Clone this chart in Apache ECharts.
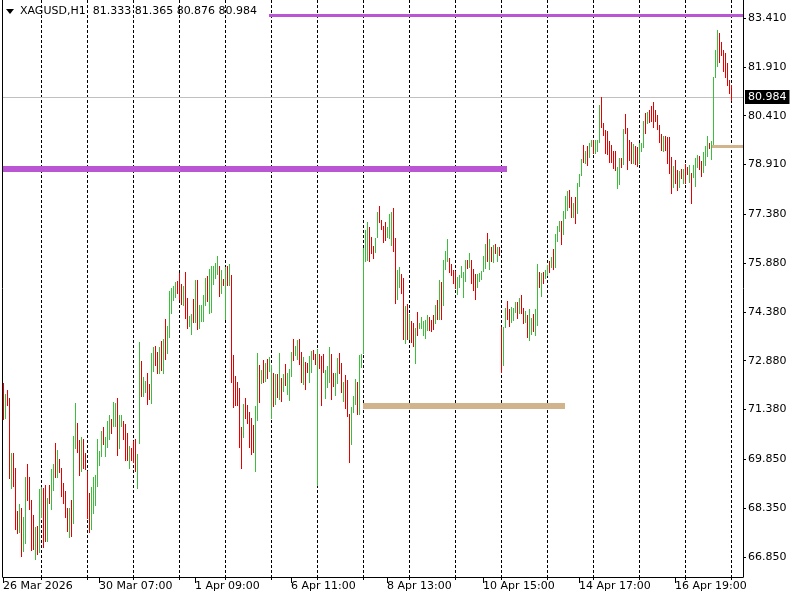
<!DOCTYPE html>
<html><head><meta charset="utf-8">
<script src="https://cdn.jsdelivr.net/npm/echarts@6/dist/echarts.min.js"></script>
<style>html,body{margin:0;padding:0;background:#fff}#c{width:800px;height:600px}</style>
</head><body><div id="c"></div>
<script>
// ---- data ----
const symbolTitle = 'XAGUSD,H1';
const headerValues = ['81.333', '81.365', '80.876', '80.984'];
const days = ['26 Mar','27 Mar','30 Mar','31 Mar','1 Apr','2 Apr','6 Apr','7 Apr','8 Apr','9 Apr','10 Apr','13 Apr','14 Apr','15 Apr','16 Apr','17 Apr','20 Apr'];
const hours = ['01:00','02:00','03:00','04:00','05:00','06:00','07:00','08:00','09:00','10:00','11:00','12:00','13:00','14:00','15:00','16:00','17:00','18:00','19:00','20:00','21:00','22:00','23:00'];
const firstBarOffset = 4;          // first bar is 26 Mar 05:00
const emptyBarsRight = 6;          // chart shift: empty hours right of the last bar
const firstLabel = '26 Mar 2026';
const labelEvery = 48;
const priceTicks = [83.41, 81.91, 80.41, 78.91, 77.38, 75.88, 74.38, 72.88, 71.38, 69.85, 68.35, 66.85];
const lastPrice = 80.984;
const levelPrices = [83.50, 78.77, 71.49, 79.47];
const levelFrom = [133, 0, 180, 354];
const levelTo = [370, 252, 281, 370];

const opens = [
72.21,71.13,71.98,71.74,68.98,70.05,69.59,68.27,67.62,68.37,
67.04,67.29,69.72,69.31,68.61,68.15,66.78,67.79,67.00,68.07,
68.97,69.06,67.34,69.06,68.33,68.91,70.35,69.32,69.87,69.59,
69.13,68.89,68.37,67.47,68.59,67.90,70.19,70.98,70.46,69.50,
70.47,70.06,69.49,68.83,67.72,68.20,68.45,69.04,69.67,69.95,
70.85,69.95,70.22,70.47,71.09,70.88,70.87,71.74,70.21,70.88,
71.03,70.94,70.66,69.59,70.20,70.41,70.47,68.98,70.36,72.87,
71.81,71.93,72.50,72.17,71.59,72.57,73.33,73.15,72.49,73.49,
72.49,74.16,73.12,73.61,74.36,74.74,74.85,75.33,75.57,75.25,
74.59,75.61,74.81,73.96,73.71,74.77,74.06,75.36,73.90,74.11,
74.09,74.58,75.48,74.36,74.38,75.25,75.42,75.55,75.79,74.95,
75.39,74.17,75.79,75.22,75.51,73.06,72.41,72.24,72.05,70.85,
70.55,71.73,71.52,71.31,71.13,70.91,69.50,71.06,72.75,72.21,
72.90,72.27,72.93,72.58,71.11,72.51,71.56,72.47,71.71,72.34,
71.96,72.78,71.86,71.67,72.41,73.55,73.06,72.92,73.54,73.16,
72.17,72.84,72.80,72.23,72.54,73.21,73.08,69.06,73.08,73.03,
73.09,71.75,72.07,72.22,73.09,72.51,71.83,72.19,73.13,72.80,
71.65,72.44,72.29,71.25,70.33,71.31,71.54,72.23,71.25,72.70,
73.13,75.95,75.98,77.00,76.68,76.42,76.22,76.69,77.64,77.21,
77.02,77.14,76.67,76.65,76.43,77.57,76.64,74.77,75.14,75.55,
75.41,73.44,74.62,73.55,74.11,74.04,72.81,74.39,73.90,73.90,
73.68,73.59,73.81,74.22,74.12,74.28,74.03,74.76,74.17,75.31,
74.59,75.71,75.94,76.04,75.85,75.66,75.64,74.94,75.16,75.45,
74.85,75.33,75.98,75.76,75.98,75.70,75.55,75.16,75.32,75.40,
75.63,75.73,76.81,75.69,76.38,75.92,76.48,75.95,76.37,73.93,
72.76,73.92,74.72,74.47,74.08,74.12,74.38,74.69,74.36,74.90,
74.51,74.08,74.29,73.53,73.71,74.32,73.68,73.98,75.61,74.87,
75.62,75.42,75.51,75.93,75.75,76.30,75.77,76.57,76.86,77.17,
76.78,77.27,77.51,78.14,77.91,77.29,77.90,77.43,78.25,78.60,
79.51,78.95,79.48,79.15,79.48,79.66,79.25,79.33,79.61,80.99,
80.19,79.97,79.95,79.63,79.51,79.33,79.33,78.19,78.31,79.10,
78.93,80.47,80.02,79.66,79.60,78.96,79.48,79.46,78.96,79.31,
79.44,80.49,80.18,80.59,80.70,80.83,80.59,80.43,80.12,79.85,
79.33,79.78,79.74,79.76,79.15,78.21,79.05,78.74,78.23,78.77,
78.33,78.93,78.84,78.37,78.64,78.53,78.26,78.84,79.16,79.01,
78.68,78.90,79.17,79.58,79.07,79.54,81.60,81.94,82.96,82.67,
82.43,82.33,82.02,81.50,81.333];

const highs = [
72.21,71.87,71.98,71.74,70.05,70.05,69.59,68.27,68.48,68.37,
68.09,69.32,69.72,69.31,68.61,68.15,67.76,67.79,68.95,69.01,
68.97,69.06,68.67,69.06,69.56,69.71,70.35,70.15,69.87,69.59,
69.13,68.89,68.37,68.36,68.59,70.57,71.59,70.98,70.46,70.54,
70.47,70.06,69.49,68.83,69.01,69.32,69.37,70.48,70.12,70.72,
70.85,70.54,71.03,71.21,71.09,71.61,71.58,71.74,71.21,71.22,
71.03,70.94,70.66,70.26,70.20,70.41,70.47,70.02,73.46,72.87,
72.39,72.26,72.50,72.17,73.12,73.30,73.33,73.15,73.30,73.49,
73.55,74.16,73.95,75.02,75.12,75.18,75.30,75.33,75.57,75.25,
75.18,75.61,74.81,74.26,74.33,74.77,75.36,75.36,74.60,74.59,
74.90,75.42,75.48,75.71,75.78,75.80,75.88,76.11,75.79,75.67,
75.39,75.77,75.79,75.85,75.51,73.06,72.41,72.24,72.05,70.85,
71.55,71.73,71.52,71.31,71.13,70.91,71.50,73.12,72.75,72.60,
72.90,72.81,72.93,73.00,72.75,72.51,72.47,72.47,73.12,72.34,
72.46,72.78,72.50,72.63,73.15,73.55,73.32,73.52,73.54,73.16,
72.99,72.84,72.80,73.03,73.18,73.21,73.08,73.24,73.08,73.03,
73.09,72.60,72.72,73.30,73.09,72.51,72.50,72.96,73.13,72.80,
72.24,72.44,72.29,71.25,71.46,71.81,72.32,72.23,73.07,73.09,
76.33,76.90,77.14,77.00,76.68,76.42,76.65,77.45,77.64,77.21,
77.02,77.14,77.00,77.39,77.45,77.57,76.64,75.67,75.76,75.55,
75.41,74.56,74.62,74.31,74.11,74.04,73.90,74.39,74.03,74.22,
74.09,74.14,74.28,74.22,74.12,74.28,74.59,74.76,75.37,75.31,
75.98,76.25,76.62,76.04,75.85,75.66,75.64,75.45,75.50,75.78,
75.61,75.98,75.98,76.20,75.98,75.70,75.55,75.55,75.59,75.65,
76.10,76.47,76.81,76.63,76.38,76.45,76.48,76.37,76.37,73.93,
73.91,74.51,74.72,74.47,74.54,74.50,74.69,74.69,74.82,74.90,
74.51,74.42,74.29,74.48,74.20,74.32,74.48,75.84,75.61,75.59,
75.62,75.67,75.81,75.93,76.06,76.30,76.78,77.01,77.17,77.17,
77.48,77.95,78.10,78.14,77.91,77.72,77.90,78.35,78.62,79.09,
79.51,79.33,79.48,79.58,79.66,79.66,79.66,79.66,80.73,80.99,
80.19,79.97,79.95,79.63,79.51,79.33,79.33,78.82,79.10,79.10,
80.00,80.47,80.02,79.66,79.60,79.55,79.48,79.46,79.56,79.56,
80.24,80.49,80.53,80.59,80.70,80.83,80.59,80.43,80.12,79.85,
79.78,79.78,79.74,79.76,79.15,78.87,79.05,78.74,78.72,78.77,
78.76,78.93,78.84,78.88,78.64,78.88,79.11,79.21,79.16,79.01,
79.29,79.48,79.78,79.58,79.64,81.60,82.43,83.04,82.96,82.67,
82.43,82.33,82.02,81.50,81.365];

const lows = [
71.10,71.13,71.52,69.29,68.98,69.04,67.72,67.60,67.62,66.89,
67.04,67.29,68.59,68.33,67.08,67.11,66.78,66.95,67.00,68.07,
67.17,67.35,67.34,68.50,68.33,68.91,69.32,69.32,69.45,68.73,
68.52,68.09,67.66,67.47,67.51,67.90,70.19,70.09,69.38,69.50,
69.59,69.55,68.06,67.63,67.72,68.20,68.45,69.04,69.67,69.95,
70.33,69.95,70.22,70.47,70.65,70.88,70.87,69.98,70.21,70.88,
70.49,69.84,69.83,69.59,69.84,69.78,69.50,68.98,70.36,71.81,
71.81,71.93,71.55,71.70,71.59,72.57,72.76,72.49,72.49,72.61,
72.49,72.94,73.12,73.61,74.36,74.74,74.85,74.96,74.78,74.61,
74.59,74.20,73.88,73.96,73.71,74.06,74.06,73.87,73.90,74.11,
74.09,74.58,74.72,74.36,74.38,75.25,75.42,75.55,74.88,74.95,
75.22,74.17,75.21,75.22,72.24,71.47,71.52,71.52,70.24,69.59,
70.55,71.13,70.98,70.24,70.02,70.08,69.50,71.06,71.62,72.21,
72.22,72.27,72.36,72.58,71.11,71.50,71.56,71.78,71.71,71.65,
71.96,72.14,71.86,71.67,72.41,72.90,73.06,72.92,72.78,72.24,
72.17,72.02,72.54,72.23,72.54,72.92,72.79,69.06,72.67,71.52,
72.53,71.75,72.07,72.22,71.71,72.10,71.83,72.19,72.50,71.92,
71.65,71.44,71.19,69.78,70.33,71.31,71.54,71.25,71.25,72.70,
73.13,75.95,75.98,75.95,76.20,76.05,76.22,76.69,77.15,76.94,
76.54,76.59,76.67,76.65,76.43,76.26,74.66,74.77,75.14,74.95,
73.56,73.44,73.54,73.55,73.47,73.34,72.81,73.67,73.90,73.90,
73.68,73.59,73.81,73.81,73.80,73.84,74.03,74.15,74.17,74.15,
74.59,75.71,75.94,75.61,75.51,75.28,75.13,74.94,75.16,75.45,
74.85,75.33,75.74,75.76,75.27,75.05,74.79,75.16,75.32,75.40,
75.63,75.73,75.94,75.69,75.94,75.92,76.20,75.95,76.13,72.54,
72.76,73.92,74.15,73.95,74.08,74.12,74.38,74.19,74.36,74.36,
74.05,74.08,73.62,73.53,73.71,73.80,73.68,73.98,75.16,74.87,
75.28,75.42,75.51,75.61,75.75,75.70,75.77,76.57,76.86,76.48,
76.78,77.27,77.51,77.60,77.31,77.29,77.12,77.43,78.25,78.60,
78.99,78.95,78.90,79.15,79.48,79.27,79.25,79.33,79.61,80.07,
79.81,79.27,79.23,79.00,78.99,78.80,78.74,78.19,78.31,78.82,
78.93,79.89,78.76,79.05,78.95,78.96,78.93,78.86,78.96,79.31,
79.44,79.89,80.18,80.22,80.25,80.05,80.25,79.99,79.60,79.36,
79.33,79.36,78.95,78.64,78.03,78.21,78.33,78.13,78.23,78.49,
78.33,78.33,78.62,78.37,77.74,78.53,78.26,78.84,78.78,78.57,
78.68,78.90,79.17,79.42,79.07,79.54,81.60,81.94,82.07,82.26,
81.77,81.59,81.34,81.10,80.876];

const closes = [
71.10,71.87,71.52,69.29,70.05,69.04,67.72,67.60,68.48,66.89,
68.09,69.32,68.59,68.33,67.08,67.11,67.76,66.95,68.95,69.01,
67.17,67.35,68.67,68.50,69.56,69.71,69.32,70.15,69.45,68.73,
68.52,68.09,67.66,68.36,67.51,70.57,71.59,70.09,69.38,70.54,
69.59,69.55,68.06,67.63,69.01,69.32,69.37,70.48,70.12,70.72,
70.33,70.54,71.03,71.21,70.65,71.61,71.58,69.98,71.21,71.22,
70.49,69.84,69.83,70.26,69.84,69.78,69.50,70.02,73.46,71.81,
72.39,72.26,71.55,71.70,73.12,73.30,72.76,72.49,73.30,72.61,
73.55,72.94,73.95,75.02,75.12,75.18,75.30,74.96,74.78,74.61,
75.18,74.20,73.88,74.26,74.33,74.06,75.36,73.87,74.60,74.59,
74.90,75.42,74.72,75.71,75.78,75.80,75.88,76.11,74.88,75.67,
75.22,75.77,75.21,75.85,72.24,71.47,71.52,71.52,70.24,69.59,
71.55,71.13,70.98,70.24,70.02,70.08,71.50,73.12,71.62,72.60,
72.22,72.81,72.36,73.00,72.75,71.50,72.47,71.78,73.12,71.65,
72.46,72.14,72.50,72.63,73.15,72.90,73.32,73.52,72.78,72.24,
72.99,72.02,72.54,73.03,73.18,72.92,72.79,73.24,72.67,71.52,
72.53,72.60,72.72,73.30,71.71,72.10,72.50,72.96,72.50,71.92,
72.24,71.44,71.19,69.78,71.46,71.81,72.32,71.25,73.07,73.09,
76.33,76.90,77.14,75.95,76.20,76.05,76.65,77.45,77.15,76.94,
76.54,76.59,77.00,77.39,77.45,76.26,74.66,75.67,75.76,74.95,
73.56,74.56,73.54,74.31,73.47,73.34,73.90,73.67,74.03,74.22,
74.09,74.14,74.28,73.81,73.80,73.84,74.59,74.15,75.37,74.15,
75.98,76.25,76.62,75.61,75.51,75.28,75.13,75.45,75.50,75.78,
75.61,75.98,75.74,76.20,75.27,75.05,74.79,75.55,75.59,75.65,
76.10,76.47,75.94,76.63,75.94,76.45,76.20,76.37,76.13,72.54,
73.91,74.51,74.15,73.95,74.54,74.50,74.69,74.19,74.82,74.36,
74.05,74.42,73.62,74.48,74.20,73.80,74.48,75.84,75.16,75.59,
75.28,75.67,75.81,75.61,76.06,75.70,76.78,77.01,77.17,76.48,
77.48,77.95,78.10,77.60,77.31,77.72,77.12,78.35,78.62,79.09,
78.99,79.33,78.90,79.58,79.66,79.27,79.66,79.66,80.73,80.07,
79.81,79.27,79.23,79.00,78.99,78.80,78.74,78.82,79.10,78.82,
80.00,79.89,78.76,79.05,78.95,79.55,78.93,78.86,79.56,79.56,
80.24,79.89,80.53,80.22,80.25,80.05,80.25,79.99,79.60,79.36,
79.78,79.36,78.95,78.64,78.03,78.87,78.33,78.13,78.72,78.49,
78.76,78.33,78.62,78.88,77.74,78.88,79.11,79.21,78.78,78.57,
79.29,79.48,79.78,79.42,79.64,81.60,82.43,83.04,82.07,82.26,
81.77,81.59,81.34,81.10,80.984];

// ---- build ----
const allTimes = [];
days.forEach(d => hours.forEach(h => allTimes.push(d + ' ' + h)));
const categories = allTimes.slice(firstBarOffset, firstBarOffset + opens.length + emptyBarsRight);
const lastIndex = opens.length - 1;
const axisEnd = categories.length - 1;
const isDayStart = (i) => categories[i] !== undefined && categories[i].endsWith(' 01:00');
const isLabel = (i) => i % labelEvery === 0 && i <= lastIndex;

const barData = opens.map((o, i) => [i, o, highs[i], lows[i], closes[i]]);

const UP = '#3cbe3c', DOWN = '#e60000';
const FONT = 'DejaVu Sans';
const levelColors = ['#BA55D3', '#BA55D3', '#D2B48C', '#D2B48C'];
const levelWidths = [3, 6, 6, 3];

const chart = echarts.init(document.getElementById('c'), null, { renderer: 'canvas' });
chart.setOption({
  animation: false,
  backgroundColor: '#ffffff',
  grid: { left: 3, right: 57, top: 0, bottom: 23, containLabel: false },
  xAxis: [{
    type: 'category', data: categories, boundaryGap: false,
    axisLine: { show: true, lineStyle: { color: '#000', width: 1 } },
    axisTick: { show: true, interval: (i) => isLabel(i), length: 6, lineStyle: { color: '#000' } },
    axisLabel: {
      show: true, interval: (i) => isLabel(i), align: 'left', margin: 4,
      color: '#000', fontFamily: FONT, fontSize: 11,
      formatter: (v, i) => (i === 0 ? firstLabel : v)
    },
    splitLine: { show: false }
  }, {
    type: 'category', data: categories, boundaryGap: false, position: 'bottom',
    axisLine: { show: false },
    axisTick: { show: true, interval: (i) => isDayStart(i), length: 3, lineStyle: { color: '#000' } },
    axisLabel: { show: false },
    splitLine: { show: true, interval: (i) => isDayStart(i), lineStyle: { color: '#000', width: 1, type: [3, 2] } }
  }],
  yAxis: [{
    type: 'value', position: 'right', min: 66.236, max: 83.963, scale: true,
    axisLine: { show: true, lineStyle: { color: '#000' } },
    axisTick: { show: true, customValues: priceTicks, length: 3, lineStyle: { color: '#000' } },
    axisLabel: { show: true, customValues: priceTicks, margin: 5, color: '#000', fontFamily: FONT, fontSize: 11,
      formatter: (v) => Number(v).toFixed(3) },
    splitLine: { show: false }
  }, {
    type: 'value', position: 'left', min: 66.236, max: 83.963, offset: 1,
    axisLine: { show: true, lineStyle: { color: '#000' } },
    axisTick: { show: false }, axisLabel: { show: false }, splitLine: { show: false }
  }],
  graphic: [
    { type: 'polygon', left: 6, top: 9, shape: { points: [[0, 0], [8, 0], [4, 5]] }, style: { fill: '#000' }, z: 100 },
    { type: 'text', left: 20, top: 6, z: 100,
      style: { text: symbolTitle + '  ' + headerValues.join(' '), fill: '#000', font: '11px "DejaVu Sans"' } }
  ],
  series: [{
    type: 'line', data: [], xAxisIndex: 0, yAxisIndex: 0, silent: true, z: 1,
    markLine: {
      silent: true, symbol: 'none', animation: false,
      data: levelPrices.map((p, k) => [
        { coord: [levelFrom[k], p], lineStyle: { color: levelColors[k], width: levelWidths[k], type: 'solid' }, label: { show: false } },
        { coord: [Math.min(levelTo[k], axisEnd), p] }
      ]).concat([
        { yAxis: lastPrice, lineStyle: { color: '#c0c0c0', width: 1, type: 'solid' },
          label: { show: true, position: 'end', formatter: lastPrice.toFixed(3), color: '#fff', backgroundColor: '#000',
                   padding: [2, 3, 1, 3], distance: 2, fontFamily: FONT, fontSize: 11 } }
      ])
    }
  }, {
    type: 'custom', xAxisIndex: 0, yAxisIndex: 0, z: 5,
    data: barData,
    encode: { x: 0, y: [1, 2, 3, 4] },
    renderItem: (params, api) => {
      const i = api.value(0);
      const o = api.value(1), h = api.value(2), l = api.value(3), c = api.value(4);
      const top = api.coord([i, h]);
      const bot = api.coord([i, l]);
      const x = Math.round(top[0]) + 0.5;
      return {
        type: 'line',
        shape: { x1: x, y1: Math.round(top[1]), x2: x, y2: Math.round(bot[1]) + 1 },
        style: { stroke: c >= o ? UP : DOWN, lineWidth: 1 }
      };
    }
  }]
});
</script>
</body></html>
